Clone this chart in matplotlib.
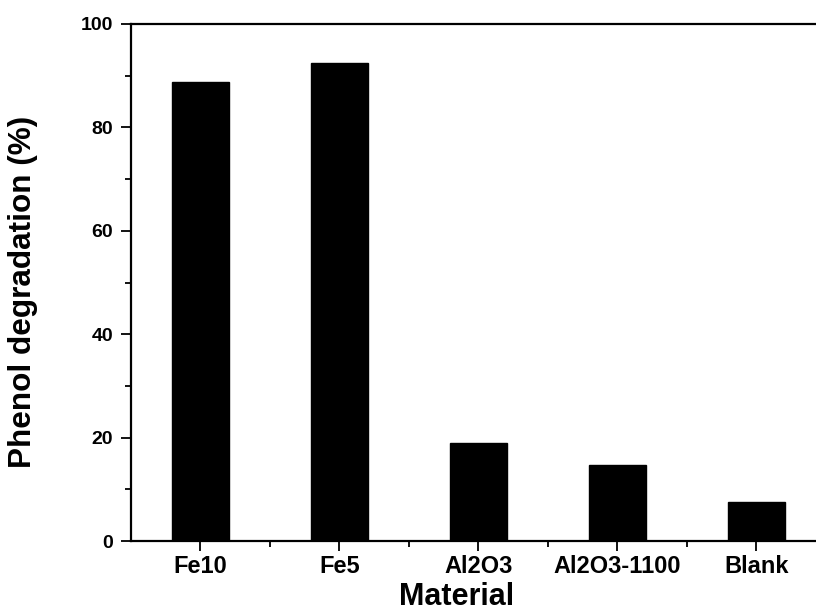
import matplotlib
matplotlib.use("Agg")
import matplotlib.pyplot as plt
from matplotlib.ticker import MultipleLocator, FixedLocator

materials = ["Fe10", "Fe5", "Al2O3", "Al2O3-1100", "Blank"]
degradation = [88.7, 92.4, 18.9, 14.7, 7.6]

plt.rcParams["font.family"] = ["Liberation Sans", "DejaVu Sans"]
plt.rcParams["font.weight"] = "bold"

W, H = 816, 612
fig = plt.figure(figsize=(W / 100, H / 100), dpi=100)
ax = fig.add_axes([131 / W, 71 / H, 694.6 / W, 517 / H])

x = list(range(len(materials)))
ax.bar(x, degradation, width=0.41, color="black", edgecolor="black")

ax.set_xlim(-0.5, len(materials) - 0.5)
ax.set_ylim(0, 100)
ax.set_xticks(x)
ax.set_xticklabels(materials, fontsize=17, fontweight="bold")
ax.xaxis.set_minor_locator(FixedLocator([i + 0.5 for i in x[:-1]]))
ax.yaxis.set_major_locator(MultipleLocator(20))
ax.yaxis.set_minor_locator(MultipleLocator(10))
for lbl in ax.get_yticklabels():
    lbl.set_fontsize(14)
    lbl.set_fontweight("bold")

ax.tick_params(which="major", direction="out", length=7, width=1.3)
ax.tick_params(which="minor", direction="out", length=4, width=1.3)
ax.tick_params(axis="x", which="major", pad=3)
ax.tick_params(axis="y", which="major", pad=6)
for side in ("left", "bottom", "top", "right"):
    ax.spines[side].set_linewidth(1.6)

# axis titles placed as in the reference
fig.text(457 / W, 7 / H, "Material", fontsize=22, fontweight="bold",
         ha="center", va="baseline")
fig.text(8 / W, 1 - 292 / H, "Phenol degradation (%)", fontsize=22.7,
         fontweight="bold", rotation=90, ha="left", va="center")

fig.savefig("out.png", dpi=100)
